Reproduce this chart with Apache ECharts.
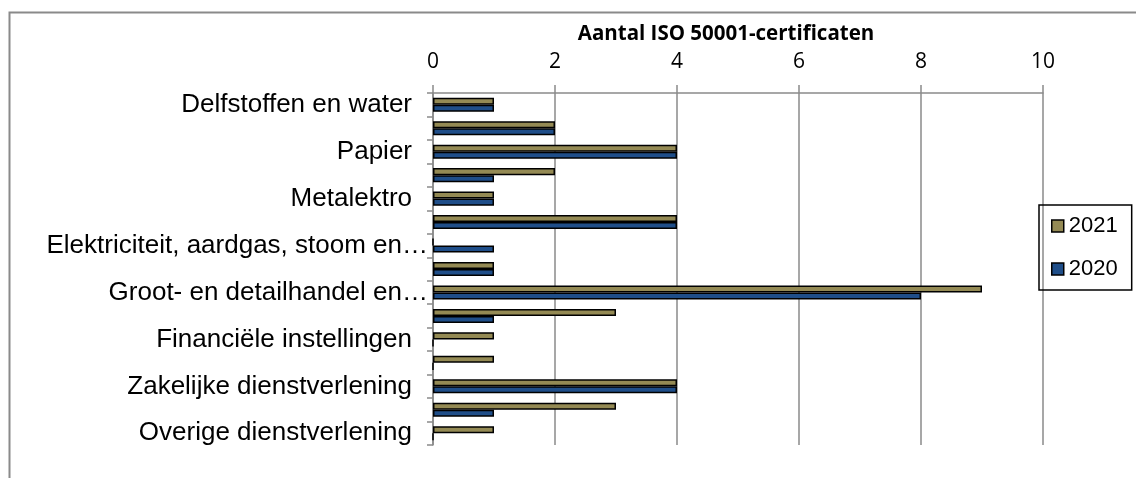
<!DOCTYPE html>
<html>
<head>
<meta charset="utf-8">
<script src="https://cdn.jsdelivr.net/npm/echarts@6/dist/echarts.min.js"></script>
<style>
html,body{margin:0;padding:0;background:#fff;}
#c{width:1136px;height:478px;}
</style>
</head>
<body>
<div id="c"></div>
<script>
const categories = [
  'Delfstoffen en water',
  'Voedings- en genotmiddelen',
  'Papier',
  'Chemie',
  'Metalektro',
  'Overige industrie',
  'Elektriciteit, aardgas, stoom en…',
  'Bouw',
  'Groot- en detailhandel en…',
  'Vervoer en opslag',
  'Financiële instellingen',
  'Informatie en communicatie',
  'Zakelijke dienstverlening',
  'Openbaar bestuur',
  'Overige dienstverlening'
];
const values2021 = [1, 2, 4, 2, 1, 4, 0, 1, 9, 3, 1, 1, 4, 3, 1];
const values2020 = [1, 2, 4, 1, 1, 4, 1, 1, 8, 1, 0, 0, 4, 1, 0];
const seriesNames = ['2021', '2020'];
const chartTitle = 'Aantal ISO 50001-certificaten';
const axisMin = 0, axisMax = 10, axisInterval = 2;

const chart = echarts.init(document.getElementById('c'), null, {renderer: 'canvas'});
const colors = ['#948A54', '#1F4E89'];
const barStyle = (c) => ({color: c, borderColor: '#000', borderWidth: 1.5});

// truncated (ellipsis) labels sit closer to the axis, as in the original
const catData = categories.map(c => c.endsWith('…')
  ? {value: c, textStyle: {padding: [0, -16, 0, 0]}}
  : c);

chart.setOption({
  animation: false,
  backgroundColor: '#fff',
  title: {
    text: chartTitle,
    left: 721, top: 19, textAlign: 'center',
    textStyle: {fontFamily: 'Open Sans', fontWeight: 'bold', fontSize: 20.5, color: '#000'}
  },
  graphic: [{
    type: 'rect', left: 7, top: 10, z: -1,
    shape: {x: 0, y: 0, width: 1300, height: 600},
    style: {fill: 'none', stroke: '#8a8a8a', lineWidth: 2}
  }],
  legend: {
    data: seriesNames,
    orient: 'vertical',
    left: 1039, top: 205,
    padding: [10, 14, 10, 12],
    borderColor: '#000', borderWidth: 1.5,
    itemWidth: 12, itemHeight: 12, itemGap: 21,
    icon: 'rect',
    itemStyle: {borderColor: '#000', borderWidth: 1.5},
    textStyle: {fontFamily: 'Liberation Sans', fontSize: 22, color: '#000'}
  },
  grid: {left: 433, right: 93, top: 93, bottom: 33, containLabel: false},
  xAxis: {
    type: 'value', position: 'top',
    min: axisMin, max: axisMax, interval: axisInterval,
    axisLine: {show: true, lineStyle: {color: '#8a8a8a', width: 1.5}},
    axisTick: {show: true, inside: false, length: 8, lineStyle: {color: '#8a8a8a', width: 1.5}},
    splitLine: {show: true, lineStyle: {color: '#8a8a8a', width: 1.5}},
    axisLabel: {fontFamily: 'Open Sans', fontSize: 21, color: '#000', margin: 20}
  },
  yAxis: {
    type: 'category', inverse: true,
    data: catData,
    axisLine: {show: true, lineStyle: {color: '#8a8a8a', width: 1.5}},
    axisTick: {show: true, inside: false, length: 6, interval: 0, lineStyle: {color: '#8a8a8a', width: 1.5}},
    axisLabel: {interval: 1, fontFamily: 'Liberation Sans', fontSize: 26, color: '#000', margin: 21}
  },
  series: [
    {name: seriesNames[0], type: 'bar', data: values2021, itemStyle: barStyle(colors[0]), barGap: '0%', barCategoryGap: '40%'},
    {name: seriesNames[1], type: 'bar', data: values2020, itemStyle: barStyle(colors[1]), barGap: '0%', barCategoryGap: '40%'}
  ]
});
</script>
</body>
</html>
